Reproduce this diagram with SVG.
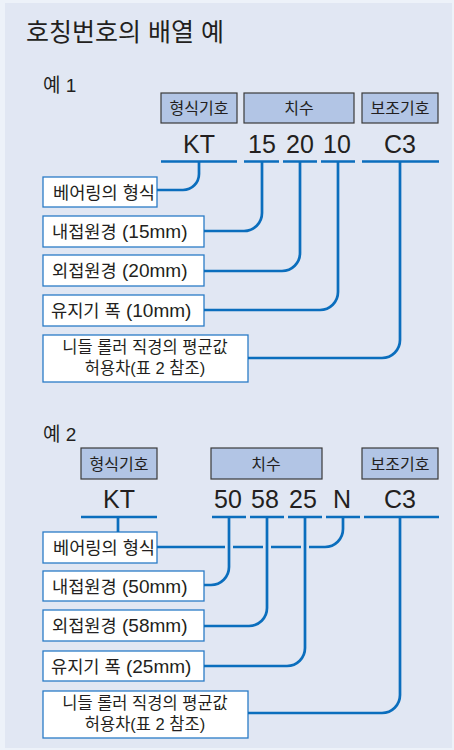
<svg xmlns="http://www.w3.org/2000/svg" width="454" height="750" viewBox="0 0 454 750">
<style>
text{font-family:"Liberation Sans","Noto Sans CJK KR",sans-serif;fill:#231f20}
.title{font-size:25px}
.ex{font-size:19px}
.hd rect{fill:#b2c5e5;stroke:#3a3a3a;stroke-width:1.2}
.hd text{font-size:16px;text-anchor:middle}
.val{font-size:25px;text-anchor:middle}
.box rect{fill:#fff;stroke:#2a7bc7;stroke-width:1.3}
.box text{font-size:17.6px}
.box tspan.l{font-size:19px}
.box2 text{font-size:16.5px;text-anchor:middle}
.ln{fill:none;stroke:#0b6ebd;stroke-width:2.7}
</style>
<rect x="0" y="0" width="454" height="750" fill="#edf2f9"/>
<rect x="5" y="3" width="447" height="745" fill="#e1e7f3"/>
<text class="title" x="26" y="41">호칭번호의 배열 예</text>

<!-- Example 1 -->
<text class="ex" x="43" y="92">예 1</text>
<g id="h1-type" class="hd"><rect x="161" y="93" width="76" height="30"/><text x="199" y="114">형식기호</text></g>
<g id="h1-dim" class="hd"><rect x="244" y="93" width="110" height="30"/><text x="299" y="114">치수</text></g>
<g id="h1-sup" class="hd"><rect x="362" y="93" width="76" height="30"/><text x="400" y="114">보조기호</text></g>
<g id="v1">
<text class="val" x="199" y="153">KT</text>
<text class="val" x="262" y="153">15</text>
<text class="val" x="300" y="153">20</text>
<text class="val" x="337" y="153">10</text>
<text class="val" x="400" y="153">C3</text>
</g>
<g id="b1-type" class="box"><rect x="43" y="177" width="114" height="30"/><text x="53" y="199">베어링의 형식</text></g>
<g id="b1-id" class="box"><rect x="43" y="216" width="161" height="31"/><text x="52" y="238">내접원경<tspan class="l"> (15mm)</tspan></text></g>
<g id="b1-od" class="box"><rect x="43" y="255" width="161" height="31"/><text x="52" y="277">외접원경<tspan class="l"> (20mm)</tspan></text></g>
<g id="b1-w" class="box"><rect x="43" y="295" width="161" height="31"/><text x="51" y="317">유지기 폭<tspan class="l"> (10mm)</tspan></text></g>
<g id="b1-tol" class="box box2"><rect x="43" y="335" width="205" height="47"/><text x="145" y="353">니들 롤러 직경의 평균값</text><text x="145" y="374">허용차(표 2 참조)</text></g>

<g id="connectors1" class="ln">
<path d="M161,161.5H237M244,161.5H279M283,161.5H317M321,161.5H355M362,161.5H439"/>
<path d="M199,161V174A16,16 0 0 1 183,190H157"/>
<path d="M262,161V213A18,18 0 0 1 244,231H204"/>
<path d="M300,161V253A18,18 0 0 1 282,271H204"/>
<path d="M338,161V292A18,18 0 0 1 320,310H204"/>
<path d="M400,161V340A18,18 0 0 1 382,358H248"/>
</g>

<!-- Example 2 -->
<text class="ex" x="43" y="441">예 2</text>
<g id="h2-type" class="hd"><rect x="81" y="448" width="76" height="31"/><text x="119" y="470">형식기호</text></g>
<g id="h2-dim" class="hd"><rect x="211" y="448" width="111" height="31"/><text x="266" y="470">치수</text></g>
<g id="h2-sup" class="hd"><rect x="362" y="448" width="76" height="31"/><text x="400" y="470">보조기호</text></g>
<g id="v2">
<text class="val" x="119" y="508">KT</text>
<text class="val" x="228" y="508">50</text>
<text class="val" x="265" y="508">58</text>
<text class="val" x="303" y="508">25</text>
<text class="val" x="342" y="508">N</text>
<text class="val" x="400" y="508">C3</text>
</g>
<g id="b2-type" class="box"><rect x="43" y="532" width="114" height="31"/><text x="53" y="554">베어링의 형식</text></g>
<g id="b2-id" class="box"><rect x="43" y="571" width="161" height="30"/><text x="52" y="593">내접원경<tspan class="l"> (50mm)</tspan></text></g>
<g id="b2-od" class="box"><rect x="43" y="610" width="161" height="31"/><text x="52" y="632">외접원경<tspan class="l"> (58mm)</tspan></text></g>
<g id="b2-w" class="box"><rect x="43" y="651" width="161" height="30"/><text x="51" y="673">유지기 폭<tspan class="l"> (25mm)</tspan></text></g>
<g id="b2-tol" class="box box2"><rect x="43" y="691" width="205" height="47"/><text x="145" y="709">니들 롤러 직경의 평균값</text><text x="145" y="730">허용차(표 2 참조)</text></g>

<g id="connectors2" class="ln">
<path d="M81,517H157M212,517H246M250,517H284M288,517H322M326,517H360M364,517H439"/>
<path d="M118,517V532"/>
<path d="M157,547H225M233,547H263M271,547H301M309,547H325A18,18 0 0 0 343,529V517"/>
<path d="M229,517V567A18,18 0 0 1 211,585H204"/>
<path d="M267,517V608A18,18 0 0 1 249,626H204"/>
<path d="M305,517V648A18,18 0 0 1 287,666H204"/>
<path d="M400,517V695A18,18 0 0 1 382,713H248"/>
</g>
</svg>
